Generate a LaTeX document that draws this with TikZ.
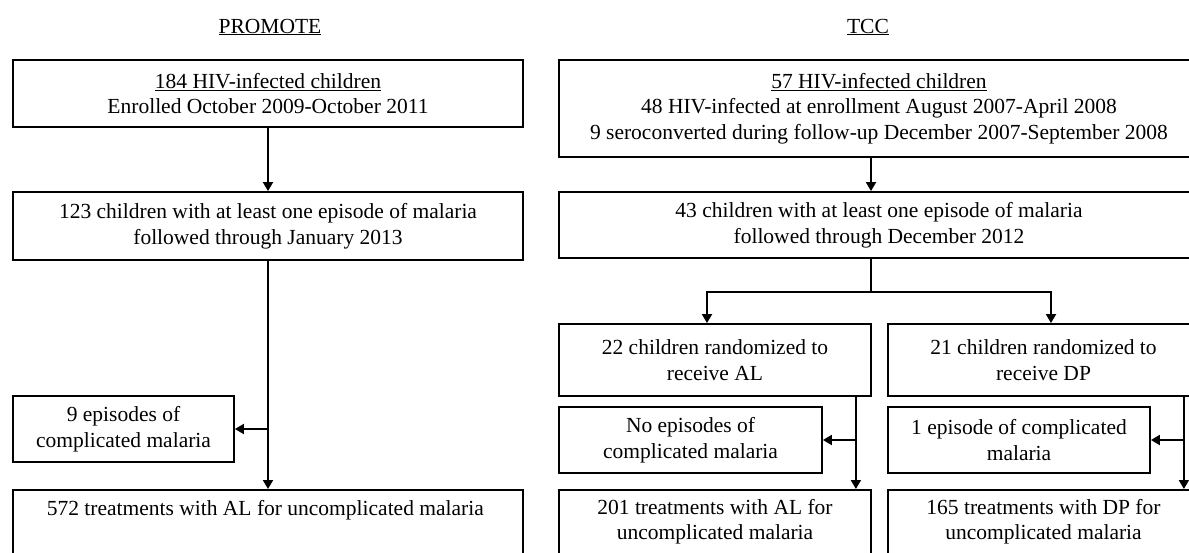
\documentclass[tikz,border=0pt]{standalone}
\usepackage{fontspec}
\setmainfont{Liberation Serif}
\usetikzlibrary{arrows.meta, positioning}

\begin{document}
\begin{tikzpicture}[x=1pt, y=-1pt,
  flowbox/.style={draw, line width=1.8pt, align=center, inner sep=0pt,
              font=\fontsize{21.5}{25.5}\selectfont},
  headline/.style={font=\fontsize{21.5}{25.5}\selectfont},
  arr/.style={line width=1.8pt, -{Triangle[length=9pt, width=10pt]}},
]
\useasboundingbox (0,0) rectangle (1189,552);
\clip (0,0) rectangle (1189,552);

% PROMOTE
\node[headline] (hprom) at (270,27) {\underline{PROMOTE}};

\node[flowbox, minimum width=510pt, minimum height=67pt] (p1) at (268,93.5) {
  \underline{184 HIV-infected children}\\Enrolled October 2009-October 2011
};
\node[flowbox, minimum width=510pt, minimum height=68pt] (p2) at (268,226) {
  123 children with at least one episode of malaria\\followed through January 2013
};
\node[flowbox, minimum width=221pt, minimum height=66pt] (pc) at (123.5,429) {
  9 episodes of\\complicated malaria
};
\node[flowbox, minimum width=510pt, text height=26pt, text depth=38pt, anchor=north] (p3) at (268,489) {
  572 treatments with AL for uncomplicated malaria
};

\draw[arr] (p1) -- (p2);
\draw[arr] (p2) -- (p3);
\draw[arr] (p2.south |- pc.east) -- (pc.east);

% TCC
\node[headline] (htcc) at (868,27) {\underline{TCC}};

\node[flowbox, minimum width=640pt, minimum height=97pt] (t1) at (879,108.5) {
  \underline{57 HIV-infected children}\\
  48 HIV-infected at enrollment August 2007-April 2008\\
  9 seroconverted during follow-up December 2007-September 2008
};
\node[flowbox, minimum width=640pt, minimum height=66pt] (t2) at (879,225) {
  43 children with at least one episode of malaria\\followed through December 2012
};
\node[flowbox, minimum width=312pt, minimum height=72pt] (ta) at (715,360) {
  22 children randomized to\\receive AL
};
\node[flowbox, minimum width=311pt, minimum height=72pt] (td) at (1043.5,360) {
  21 children randomized to\\receive DP
};
\node[flowbox, minimum width=263pt, minimum height=66pt] (tna) at (690.5,440) {
  No episodes of\\complicated malaria
};
\node[flowbox, minimum width=262pt, minimum height=66pt] (tde) at (1019,440) {
  1 episode of complicated\\malaria
};
\node[flowbox, minimum width=312pt, minimum height=64pt, anchor=north] (tab) at (715,489) {
  201 treatments with AL for\\uncomplicated malaria
};
\node[flowbox, minimum width=311pt, minimum height=64pt, anchor=north] (tdb) at (1043.5,489) {
  165 treatments with DP for\\uncomplicated malaria
};

\coordinate (tmid) at ([xshift=-8pt]t2.south);
\coordinate (alline) at ([xshift=-16pt]ta.south east);
\coordinate (dpline) at ([xshift=-16pt]td.south east);

\draw[arr] ([xshift=-8pt]t1.south) -- ([xshift=-8pt]t2.north);
\draw[arr] (tmid) -- ++(0,33) -| ([xshift=-8pt]ta.north);
\draw[arr] (tmid) -- ++(0,33) -| ([xshift=7.5pt]td.north);
\draw[arr] (alline) -- (alline |- tab.north);
\draw[arr] (alline |- tna.east) -- (tna.east);
\draw[arr] (dpline) -- (dpline |- tdb.north);
\draw[arr] (dpline |- tde.east) -- (tde.east);
\end{tikzpicture}
\end{document}
